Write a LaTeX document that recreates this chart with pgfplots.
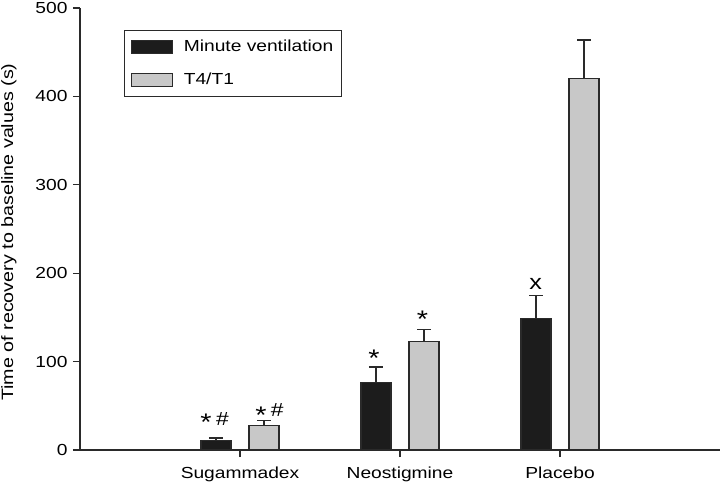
\documentclass[border=0pt]{standalone}
\usepackage{fontspec}
\setmainfont{Liberation Sans}[FakeStretch=1.2]
\usepackage{pgfplots}
\pgfplotsset{compat=1.18}
\definecolor{barblack}{HTML}{1C1C1C}
\definecolor{bargray}{HTML}{C8C8C8}
\definecolor{edge}{HTML}{2A2A2A}
\begin{document}
\fontsize{16bp}{19bp}\selectfont
\begin{tikzpicture}
\begin{axis}[
  at={(0,0)}, anchor=south west,
  scale only axis, width=640bp, height=442bp,
  xmin=0, xmax=4, ymin=0, ymax=500,
  axis lines*=left,
  axis line style={line width=1.4bp, draw=edge, -},
  xtick={1,2,3}, xticklabels={Sugammadex,Neostigmine,Placebo},
  ytick={0,100,200,300,400,500},
  tick align=outside, major tick length=7bp,
  tick style={line width=1.2bp, draw=edge},
  /pgf/number format/assume math mode=true,
  ticklabel style={font=\fontsize{16bp}{19bp}\selectfont},
  xticklabel style={yshift=-4bp},
  ylabel={Time of recovery to baseline values (s)},
  ylabel style={at={(axis description cs:-0.111,0.493)}, anchor=center, font=\fontsize{16.4bp}{19bp}\selectfont},
  ybar=18bp, bar width=30bp,
  legend style={at={(rel axis cs:0.0688,0.95)}, anchor=north west, draw=edge, line width=1.2bp,
    inner xsep=6bp, inner ysep=7.5bp, row sep=15bp, font=\fontsize{16bp}{19bp}\selectfont},
  legend cell align=left,
  legend image code/.code={\draw[#1, draw=edge, line width=1.2bp] (0bp,-6.5bp) rectangle (41bp,6.5bp);},
  clip=false,
  error bars/error bar style={line width=1.3bp, draw=edge},
  error bars/error mark options={rotate=90, mark size=7bp, line width=1.3bp, draw=edge},
]
\addplot[fill=barblack, draw=edge, line width=1.2bp,
  error bars/.cd, y dir=plus, y explicit]
  coordinates {(1,11) +- (0,2.5) (2,76.6) +- (0,17.3) (3,149) +- (0,25.6)};
\addplot[fill=bargray, draw=edge, line width=1.2bp,
  error bars/.cd, y dir=plus, y explicit]
  coordinates {(1,28) +- (0,5) (2,122.5) +- (0,13.6) (3,420.5) +- (0,43.3)};
\legend{\hspace{9bp}Minute ventilation\hspace{5bp}, \hspace{9bp}T4/T1}
\node[anchor=base, inner sep=0pt, font=\fontsize{24bp}{26bp}\selectfont] at (axis cs:0.787,21.8) {*};
\node[anchor=base, inner sep=0pt, font=\fontsize{19bp}{20bp}\selectfont] at (axis cs:0.89,27.3) {\#};
\node[anchor=base, inner sep=0pt, font=\fontsize{24bp}{26bp}\selectfont] at (axis cs:1.131,30.3) {*};
\node[anchor=base, inner sep=0pt, font=\fontsize{19bp}{20bp}\selectfont] at (axis cs:1.232,38.0) {\#};
\node[anchor=base, inner sep=0pt, font=\fontsize{24bp}{26bp}\selectfont] at (axis cs:1.8375,93.9) {*};
\node[anchor=base, inner sep=0pt, font=\fontsize{24bp}{26bp}\selectfont] at (axis cs:2.14,138.8) {*};
\node[anchor=base, inner sep=0pt, font=\fontsize{21bp}{24bp}\selectfont] at (axis cs:2.848,182) {x};
\end{axis}
\pgfresetboundingbox
\path (-80bp,-35bp) rectangle (640bp,450bp);
\end{tikzpicture}
\end{document}
